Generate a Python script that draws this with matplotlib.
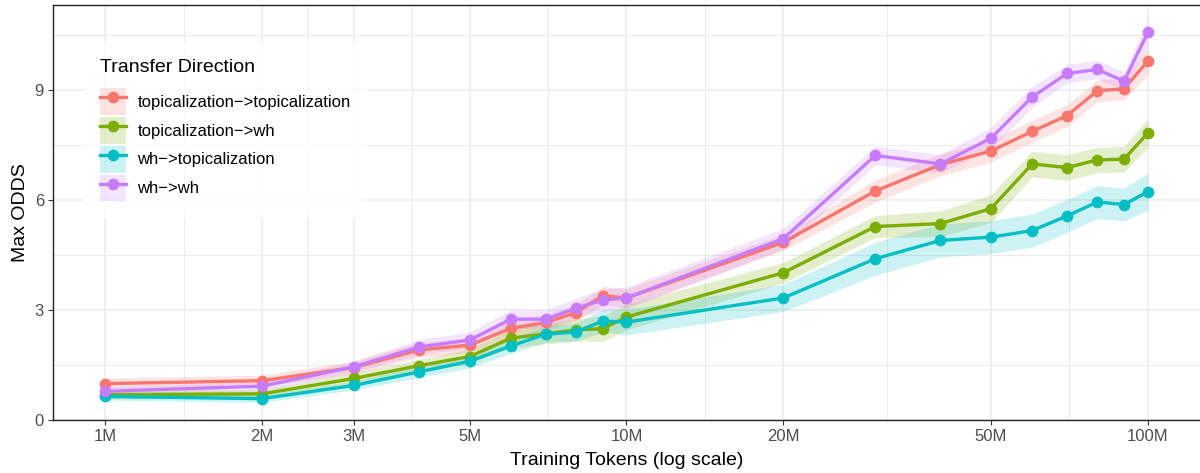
import numpy as np
import matplotlib
matplotlib.use('Agg')
from matplotlib import pyplot as plt
from matplotlib.patches import Patch
from matplotlib.lines import Line2D
from matplotlib.ticker import FixedLocator, NullFormatter

plt.rcParams['font.family'] = ['Liberation Sans', 'DejaVu Sans']

tokens = [1e6, 2e6, 3e6, 4e6, 5e6, 6e6, 7e6, 8e6, 9e6, 1e7,
          2e7, 3e7, 4e7, 5e7, 6e7, 7e7, 8e7, 9e7, 1e8]

directions = ['topicalization\u2212>topicalization', 'topicalization\u2212>wh',
              'wh\u2212>topicalization', 'wh\u2212>wh']
colors = ['#F8766D', '#7CAE00', '#00BFC4', '#C77CFF']

topic_topic = [0.98, 1.06, 1.42, 1.90, 2.03, 2.49, 2.65, 2.92, 3.38, 3.32,
               4.84, 6.24, 6.96, 7.33, 7.87, 8.30, 8.98, 9.03, 9.79]
topic_wh = [0.68, 0.70, 1.12, 1.47, 1.72, 2.22, 2.34, 2.45, 2.48, 2.80,
            4.01, 5.27, 5.35, 5.76, 6.98, 6.88, 7.09, 7.11, 7.82]
wh_topic = [0.63, 0.57, 0.93, 1.30, 1.59, 2.01, 2.33, 2.39, 2.69, 2.66,
            3.32, 4.39, 4.89, 4.98, 5.16, 5.56, 5.94, 5.87, 6.22]
wh_wh = [0.77, 0.91, 1.44, 1.98, 2.17, 2.74, 2.74, 3.04, 3.26, 3.32,
         4.94, 7.21, 6.98, 7.68, 8.81, 9.45, 9.56, 9.24, 10.57]

# ribbon half widths
se_topic_topic = [0.15, 0.15, 0.18, 0.2, 0.2, 0.22, 0.22, 0.22, 0.25, 0.25,
                  0.22, 0.3, 0.3, 0.3, 0.3, 0.3, 0.3, 0.3, 0.37]
se_topic_wh = [0.12, 0.12, 0.15, 0.18, 0.2, 0.25, 0.28, 0.3, 0.35, 0.35,
               0.28, 0.3, 0.35, 0.38, 0.35, 0.35, 0.35, 0.35, 0.39]
se_wh_topic = [0.1, 0.1, 0.12, 0.15, 0.18, 0.2, 0.22, 0.25, 0.3, 0.35,
               0.37, 0.45, 0.45, 0.45, 0.45, 0.45, 0.45, 0.45, 0.5]
se_wh_wh = [0.12, 0.12, 0.15, 0.2, 0.22, 0.25, 0.25, 0.27, 0.3, 0.3,
            0.28, 0.25, 0.25, 0.3, 0.28, 0.25, 0.25, 0.25, 0.35]

series = [topic_topic, topic_wh, wh_topic, wh_wh]
ses = [se_topic_topic, se_topic_wh, se_wh_topic, se_wh_wh]

xticks = [1e6, 2e6, 3e6, 5e6, 1e7, 2e7, 5e7, 1e8]
xticklabels = ['1M', '2M', '3M', '5M', '10M', '20M', '50M', '100M']
yticks = [0, 3, 6, 9]

fig = plt.figure(figsize=(12, 4.73), dpi=100)
ax = fig.add_axes([53/1200, (473-419.5)/473, 1147/1200, 414.5/473])

x = np.array(tokens)
for vals, se, c in zip(series, ses, colors):
    v = np.array(vals); s = np.array(se)
    ax.fill_between(x, v - s, v + s, color=c, alpha=0.2, linewidth=0, zorder=2)
for vals, c in zip(series, colors):
    ax.plot(x, vals, color=c, linewidth=2.4, marker='o', markersize=7.4, zorder=3)

ax.set_xscale('log')
ax.set_xlim(10**5.9, 10**8.1)
ax.set_ylim(0, 11.32)

ax.xaxis.set_major_locator(FixedLocator(xticks))
ax.set_xticklabels(xticklabels)
lx = np.log10(xticks)
ax.xaxis.set_minor_locator(FixedLocator(10**((lx[:-1] + lx[1:]) / 2)))
ax.xaxis.set_minor_formatter(NullFormatter())
ax.set_yticks(yticks)
ax.set_yticks([1.5, 4.5, 7.5, 10.5], minor=True)

ax.grid(which='major', color='#EBEBEB', linewidth=1.1, zorder=0)
ax.grid(which='minor', color='#EBEBEB', linewidth=0.7, zorder=0)
ax.set_axisbelow(True)
ax.tick_params(which='major', direction='out', length=3.5, width=0.8, color='#333333',
               labelsize=12, labelcolor='#4D4D4D', pad=3)
ax.tick_params(which='minor', length=0)

for side in ['left', 'bottom', 'top']:
    ax.spines[side].set_color('#222222')
    ax.spines[side].set_linewidth(1.0)
ax.spines['right'].set_visible(False)

ax.set_xlabel('Training Tokens (log scale)', fontsize=14, labelpad=6)
ax.set_ylabel('Max ODDS', fontsize=14, labelpad=4)

handles = [(Patch(facecolor=c, alpha=0.2, edgecolor='none'),
            Line2D([], [], color=c, linewidth=2.4, marker='o', markersize=7.4))
           for c in colors]
leg = ax.legend(handles, directions, title='Transfer Direction', loc='upper left',
                bbox_to_anchor=(30/1147, (419.5-42)/414.5), borderaxespad=0,
                fontsize=12, title_fontsize=14,
                handlelength=1.6, handleheight=2.1, labelspacing=0.12,
                handletextpad=0.66, borderpad=1.0, frameon=True, fancybox=False,
                alignment='left')
leg._legend_box.sep = 9
leg.get_frame().set_facecolor('white')
leg.get_frame().set_alpha(0.8)
leg.get_frame().set_edgecolor('none')

fig.savefig('out.png', dpi=100)
